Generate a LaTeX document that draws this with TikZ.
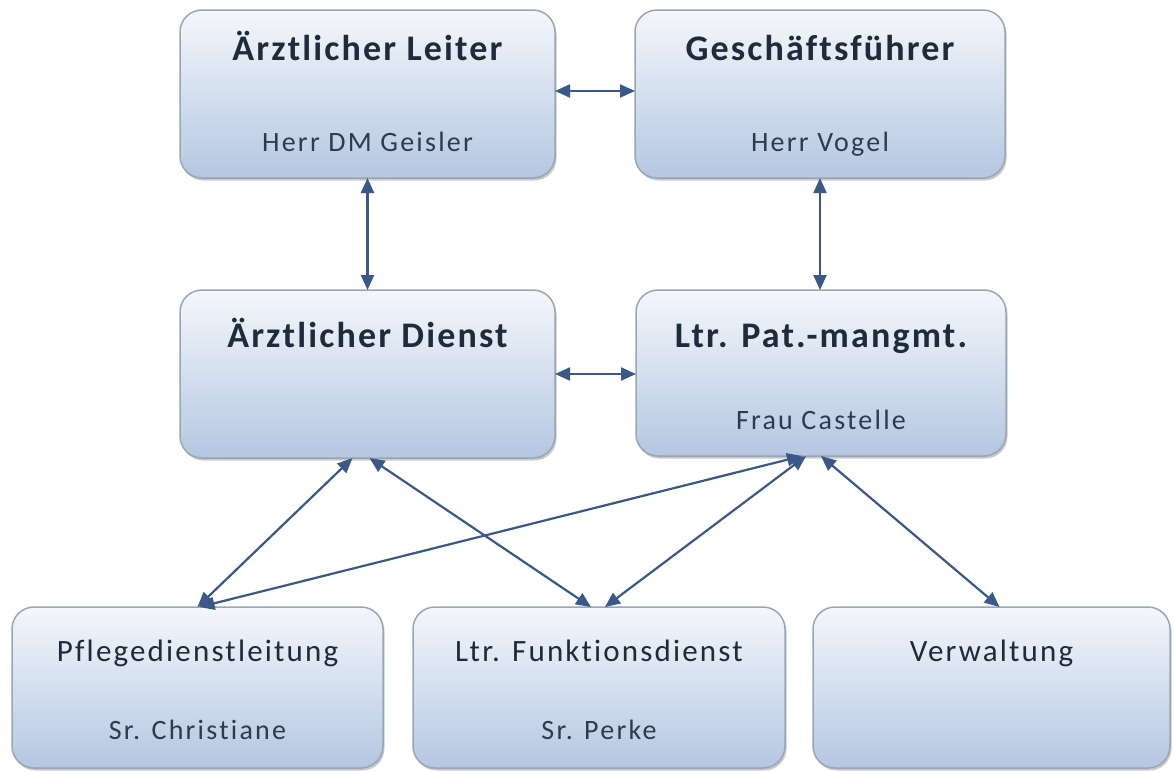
\documentclass[tikz,border=0pt]{standalone}
\usepackage{fontspec}
\setmainfont{Carlito}
\newfontfamily\hfont[LetterSpace=6,Ligatures=NoCommon]{Carlito}
\newfontfamily\rfont[LetterSpace=7,Ligatures=NoCommon]{Carlito}
\newfontfamily\sfont[LetterSpace=8,Ligatures=NoCommon]{Carlito}
\usetikzlibrary{arrows.meta,shadows}
\definecolor{boxtop}{HTML}{F4F7FB}
\definecolor{boxbot}{HTML}{B4C7E1}
\definecolor{boxline}{HTML}{9AA5B5}
\definecolor{arrowc}{HTML}{3A5888}
\definecolor{txt}{HTML}{1E2B3C}
\definecolor{subtxt}{HTML}{2D3B4F}
\tikzset{
 orgbox/.style={rectangle, rounded corners=22pt, draw=boxline, line width=1.5pt,
   top color=boxtop, bottom color=boxbot, inner sep=0pt, outer sep=0pt,
   drop shadow={shadow xshift=1.5pt, shadow yshift=-2.5pt, opacity=0.35, fill=black!60}},
 ttl/.style={anchor=base, text=txt, font=\hfont\bfseries\fontsize{36}{40}\selectfont, inner sep=0pt},
 rttl/.style={anchor=base, text=txt, font=\rfont\fontsize{31}{36}\selectfont, inner sep=0pt},
 sub/.style={anchor=base, text=subtxt, font=\sfont\fontsize{28}{32}\selectfont, inner sep=0pt},
 link/.style={draw=arrowc, line width=2.2pt, {Triangle[length=15pt,width=13pt]}-{Triangle[length=15pt,width=13pt]}}
}
\begin{document}
\begin{tikzpicture}[x=1pt,y=-1pt]
\useasboundingbox[fill=white] (0,0) rectangle (1174,771);
% boxes
\node[orgbox, minimum width=375pt, minimum height=168pt] (tl) at (367.5,94) {};
\node[orgbox, minimum width=370pt, minimum height=168pt] (tr) at (820,94) {};
\node[orgbox, minimum width=375pt, minimum height=168pt] (ml) at (367.5,374) {};
\node[orgbox, minimum width=370pt, minimum height=166pt] (mr) at (821,373) {};
\node[orgbox, minimum width=371pt, minimum height=161pt] (bl) at (197.5,687.5) {};
\node[orgbox, minimum width=372pt, minimum height=161pt] (bm) at (599,687.5) {};
\node[orgbox, minimum width=357pt, minimum height=161pt] (br) at (991.5,687.5) {};
% texts
\node[ttl] (tlT) at (367.5,60) {Ärztlicher Leiter};
\node[sub] (tlS) at (367.5,151) {Herr DM Geisler};
\node[ttl] (trT) at (820,60) {Geschäftsführer};
\node[sub] (trS) at (820,151) {Herr Vogel};
\node[ttl] (mlT) at (367.5,347) {Ärztlicher Dienst};
\node[ttl] (mrT) at (821,347) {Ltr. Pat.-mangmt.};
\node[sub] (mrS) at (821,429) {Frau Castelle};
\node[rttl] (blT) at (197.5,661) {Pflegedienstleitung};
\node[sub] (blS) at (197.5,739) {Sr. Christiane};
\node[rttl] (bmT) at (599,661) {Ltr. Funktionsdienst};
\node[sub] (bmS) at (599,739) {Sr. Perke};
\node[rttl] (brT) at (991.5,661) {Verwaltung};
% connectors
\draw[link] ([yshift=3pt]tl.east) -- ([yshift=3pt]tr.west);
\draw[link] (tl.south) -- (ml.north);
\draw[link] (tr.south) -- (tr.south |- mr.north);
\draw[link] (ml.east) -- (ml.east -| mr.west);
\draw[link] ([xshift=-15pt]ml.south) -- (bl.north);
\draw[link] ([xshift=2pt]ml.south) -- ([xshift=-8pt]bm.north);
\draw[link] ([xshift=-19pt]mr.south) -- ([xshift=2pt]bl.north);
\draw[link] ([xshift=-15pt]mr.south) -- ([xshift=6pt]bm.north);
\draw[link] ([xshift=0pt]mr.south) -- ([xshift=8pt]br.north);
\end{tikzpicture}
\end{document}
